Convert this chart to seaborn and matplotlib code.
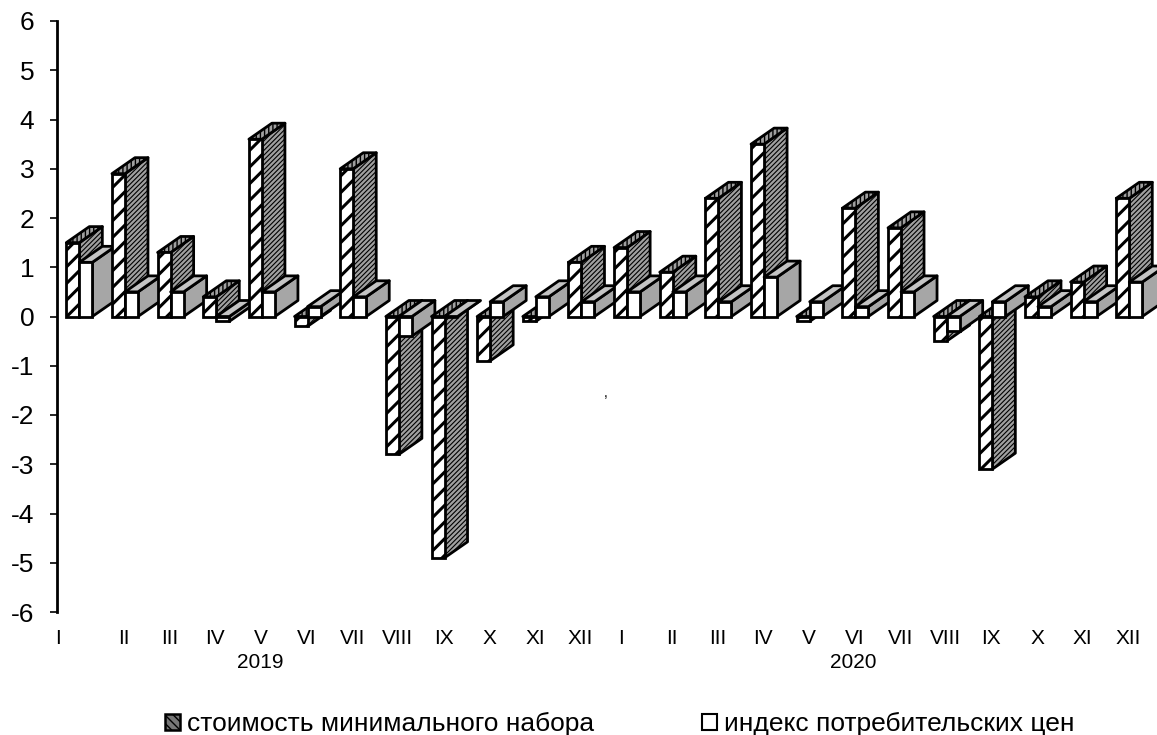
import matplotlib
matplotlib.use("Agg")
import matplotlib.pyplot as plt
from matplotlib.patches import Patch, Polygon
import pandas as pd
import seaborn as sns

months = ["I", "II", "III", "IV", "V", "VI", "VII", "VIII", "IX", "X", "XI", "XII"] * 2
set_cost = [1.5, 2.9, 1.3, 0.4, 3.6, -0.2, 3.0, -2.8, -4.9, -0.9, -0.1, 1.1,
            1.4, 0.9, 2.4, 3.5, -0.1, 2.2, 1.8, -0.5, -3.1, 0.4, 0.7, 2.4]
cpi = [1.1, 0.5, 0.5, -0.1, 0.5, 0.2, 0.4, -0.4, 0.0, 0.3, 0.4, 0.3,
       0.5, 0.5, 0.3, 0.8, 0.3, 0.2, 0.5, -0.3, 0.3, 0.2, 0.3, 0.7]
series_names = ["стоимость минимального набора", "индекс потребительских цен"]

plt.rcParams["font.family"] = ["Liberation Sans", "DejaVu Sans"]
plt.rcParams["axes.unicode_minus"] = False

W, H = 1157, 735
fig = plt.figure(figsize=(W / 100, H / 100), dpi=100, facecolor="white")
ax = fig.add_axes([56.5 / W, 1 - 612 / H, 1095.6 / W, 591 / H])

# one row per bar, months repeat so key them by position
slots = [str(i) for i in range(len(months))]
df = pd.DataFrame({
    "slot": slots * 2,
    "value": set_cost + cpi,
    "series": [series_names[0]] * len(slots) + [series_names[1]] * len(slots),
})
sns.barplot(data=df, x="slot", y="value", hue="series", order=slots, hue_order=series_names,
            width=0.57, gap=0, dodge=True, legend=False, ax=ax)

ax.set_xlim(-0.5, 23.5)
ax.set_ylim(-6, 6)

# fake 3d depth of the excel chart, in data units
depth_x = 23 / 45.65
depth_y = 16 / 49.25


def add_face(points, z, face, hatch=None, hatch_lw=1.0):
    poly = Polygon(points, closed=True, facecolor=face, edgecolor="black", linewidth=2.0,
                   hatch=hatch, zorder=z, clip_on=False, joinstyle="round")
    poly.set_hatch_linewidth(hatch_lw)
    ax.add_patch(poly)


for s, container in enumerate(ax.containers):
    for i, bar in enumerate(container):
        x0, x1 = bar.get_x(), bar.get_x() + bar.get_width()
        y0, y1 = sorted((bar.get_y(), bar.get_y() + bar.get_height()))
        z = 3 + i + s * 0.3
        if s == 0:
            side, top, side_hatch, top_hatch = "#a0a0a0", "#a0a0a0", "///////", "||||"
        else:
            side, top, side_hatch, top_hatch = "#a6a6a6", "#c4c4c4", None, None
        add_face([(x1, y0), (x1 + depth_x, y0 + depth_y), (x1 + depth_x, y1 + depth_y), (x1, y1)],
                 z, side, side_hatch, 0.8)
        add_face([(x0, y1), (x0 + depth_x, y1 + depth_y), (x1 + depth_x, y1 + depth_y), (x1, y1)],
                 z + 0.01, top, top_hatch, 1.0)
        bar.set_facecolor("white")
        bar.set_edgecolor("black")
        bar.set_linewidth(2.0)
        bar.set_zorder(z + 0.02)
        bar.set_clip_on(False)
        if s == 0:
            bar.set_hatch("//")
            bar.set_hatch_linewidth(2.2)

sns.despine(ax=ax, bottom=True)
ax.spines["left"].set_linewidth(2)
ax.spines["left"].set_zorder(2)
ax.set_yticks(range(-6, 7))
ax.tick_params(axis="y", labelsize=19, length=5, width=1.2, pad=11)

# first january label sits on the axis in the original, second one is a bit off too
tick_pos = [i - 0.02 for i in range(len(months))]
tick_pos[0] = -0.46
tick_pos[12] = 11.86
ax.set_xticks(tick_pos)
ax.set_xticklabels(months, fontsize=15)
ax.tick_params(axis="x", length=0, pad=12)
ax.set_xlabel("")
ax.set_ylabel("")

trans = ax.get_xaxis_transform()
ax.text(3.97, -0.085, "2019", transform=trans, ha="center", va="center", fontsize=15)
ax.text(16.96, -0.085, "2020", transform=trans, ha="center", va="center", fontsize=15)
ax.text(11.52, -1.55, ",", ha="center", va="center", fontsize=10)

handles = [Patch(facecolor="#777777", edgecolor="black", hatch="\\\\\\\\", linewidth=1.8, label=series_names[0]),
           Patch(facecolor="white", edgecolor="black", linewidth=1.5, label=series_names[1])]
fig.legend(handles=handles, ncol=2, loc="center", bbox_to_anchor=(620 / W, 1 - 724 / H),
           frameon=False, fontsize=19, handlelength=0.55, handleheight=0.55, handletextpad=0.27,
           columnspacing=4.1, borderpad=0)

fig.savefig("out.png", dpi=100)
